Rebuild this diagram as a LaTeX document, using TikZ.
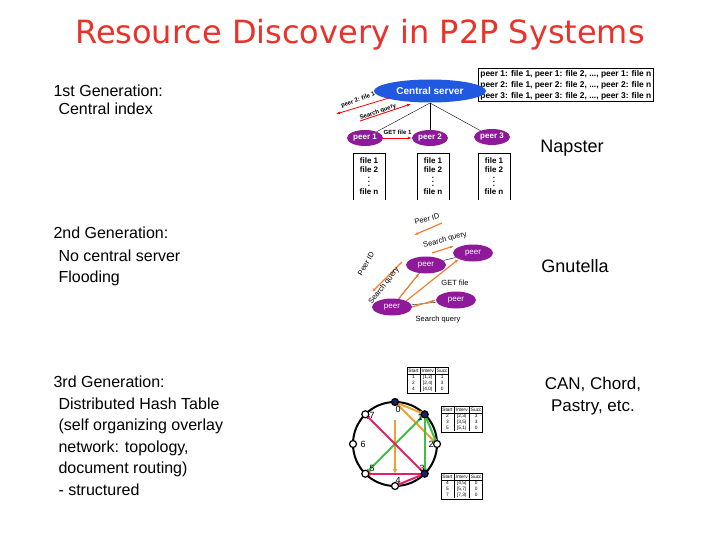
\documentclass[tikz,border=0pt]{standalone}
\usepackage{fontspec}
\setmainfont{Liberation Sans}
\newfontfamily\ttlfont{DejaVu Sans}
\usetikzlibrary{shapes.geometric,arrows.meta}
\definecolor{ttl}{HTML}{E8322A}
\definecolor{srv}{HTML}{2058E0}
\definecolor{pur}{HTML}{8E1A9A}
\definecolor{org}{HTML}{F08030}
\definecolor{ch}{HTML}{F0A030}
\definecolor{gr}{HTML}{40C040}
\definecolor{mg}{HTML}{E0206A}
\definecolor{nv}{HTML}{1A2060}
\setlength\tabcolsep{1.6pt}
\begin{document}
\begin{tikzpicture}[x=1pt,y=-1pt,
  lt/.style={anchor=base west,font=\fontsize{16}{16}\selectfont},
  peer/.style={ellipse,fill=pur,text=white,inner sep=0pt,minimum width=36,minimum height=16,font=\bfseries\fontsize{8}{8}\selectfont},
  gpeer/.style={ellipse,fill=pur,text=white,inner sep=0pt,minimum width=40,minimum height=17,font=\fontsize{8}{8}\selectfont},
  fl/.style={font=\bfseries\fontsize{8}{9}\selectfont,align=center},
  rar/.style={red,thick,-{Latex[length=4pt]}},
  oar/.style={org,line width=1.2pt,-{Latex[length=4pt]}},
  sm/.style={font=\fontsize{7.5}{8}\selectfont},
  cn/.style={circle,draw=black,line width=1.2pt,fill=white,inner sep=0pt,minimum size=7},
  cf/.style={cn,fill=nv},
  cl/.style={font=\fontsize{9}{9}\selectfont},
  tb/.style={draw,fill=white,thick,inner sep=1pt,font=\fontsize{4.8}{5.8}\selectfont},
  car/.style={line width=2pt,-{Latex[length=5pt,width=5pt]}}]
\useasboundingbox (0,0) rectangle (720,540);
\node[text=ttl,font=\ttlfont\fontsize{32}{32}\selectfont] (title) at (360,35) {Resource Discovery in P2P Systems};
% left texts
\node[lt] (g1) at (50,97) {1st Generation:};
\node[lt] (g1a) at (55,115) {Central index};
\node[lt] (g2) at (50,239) {2nd Generation:};
\node[lt,align=left,anchor=north west,font=\fontsize{16}{21}\selectfont] (g2a) at (55,246) {No central server\\Flooding};
\node[lt] (g3) at (50,387) {3rd Generation:};
\node[lt,align=left,anchor=north west,font=\fontsize{16}{21.5}\selectfont] (g3a) at (55,394) {Distributed Hash Table\\(self organizing overlay\\network: topology,\\document routing)\\ - structured};
\node[font=\fontsize{18}{18}\selectfont] (nap) at (572,148) {Napster};
\node[font=\fontsize{18}{18}\selectfont] (gnu) at (575,266) {Gnutella};
\node[font=\fontsize{17}{22}\selectfont,align=center] (can) at (593,396) {CAN, Chord,\\Pastry, etc.};
% Napster
\node[draw,thick,fill=white,inner sep=2pt,anchor=north west,font=\bfseries\fontsize{8.4}{10.8}\selectfont,align=left] (tab) at (478,68) {peer 1: file 1, peer 1: file 2, ..., peer 1: file n\\peer 2: file 1, peer 2: file 2, ..., peer 2: file n\\peer 3: file 1, peer 3: file 2, ..., peer 3: file n};
\node[ellipse,fill=srv,text=white,minimum width=112,minimum height=23,inner sep=0pt,font=\bfseries\fontsize{10}{10}\selectfont] (srv) at (430,91) {Central server};
\node[peer] (p1) at (365,138) {peer 1};
\node[peer] (p2) at (430,138) {peer 2};
\node[peer] (p3) at (492,137) {peer 3};
\coordinate (sc) at (430,103);
\draw (sc) -- (p1);
\draw (sc) -- (p2);
\draw (sc) -- (p3);
\draw[rar] (p1) -- (p2) node[midway,above,font=\bfseries\fontsize{6}{6}\selectfont,black] {GET file 1};
\coordinate (a1s) at (389,98); \coordinate (a1e) at (336,114);
\coordinate (a2s) at (360,121); \coordinate (a2e) at (411,104);
\draw[rar] (a1s) -- (a1e);
\draw[rar] (a2s) -- (a2e);
\node[rotate=20,font=\bfseries\fontsize{6}{6}\selectfont] (t1) at (358,100) {peer 2: file 1};
\node[rotate=20,font=\bfseries\fontsize{6}{6}\selectfont] (t2) at (378,112) {Search query};
\foreach \x/\n in {353/f1,417/f2,478/f3}{
  \draw (\x,200) -- (\x,153) -- (\x+32,153) -- (\x+32,200);
  \node[fl,anchor=north] (\n) at (\x+16,154) {file 1\\file 2\\[-2pt]$\vdots$\\[-1pt]file n};
}
% Gnutella
\node[gpeer] (ga) at (392,307) {peer};
\node[gpeer] (gb) at (426,265) {peer};
\node[gpeer] (gc) at (473,253) {peer};
\node[gpeer] (gd) at (456,300) {peer};
\draw (ga) -- (gb); \draw (gb) -- (gc); \draw (ga) -- (gd);
\draw[oar] (ga) -- (gb);
\draw[oar] (ga.north east) -- (gc.south west);
\draw[oar] (ga.east) -- (gd.west);
\coordinate (q1s) at (442,223); \coordinate (q1e) at (414,235);
\coordinate (q2s) at (432,253); \coordinate (q2e) at (454,246);
\coordinate (q3s) at (402,262); \coordinate (q3e) at (372,292);
\draw[oar] (q1s) -- (q1e);
\draw[oar] (q2s) -- (q2e);
\draw[oar] (q3s) -- (q3e);
\node[sm,rotate=15] (l1) at (427,219) {Peer ID};
\node[sm,rotate=15] (l2) at (445,240) {Search query};
\node[sm,rotate=60] (l3) at (366,264) {Peer ID};
\node[sm,rotate=52] (l4) at (384,286) {Search query};
\node[sm] (l5) at (455,283) {GET file};
\node[sm] (l6) at (438,320) {Search query};
% Chord
\draw[line width=2pt] (395,444) circle (42);
\foreach \i in {0,...,7}{\coordinate (c\i) at ({395+42*sin(45*\i)},{444-42*cos(45*\i)});}
\draw[car,ch] (c0) -- (c1);
\draw[car,ch] (c0) -- (c2);
\draw[car,ch] (395,420) -- (395,474);
\draw[car,gr] (c1) -- (c3);
\draw[car,gr] (c1) -- (c5);
\draw[car,gr] (c1) -- (c2);
\draw[car,mg] (c3) -- (c7);
\draw[car,mg] (c3) -- (c5);
\draw[car,mg] (c3) -- (c4);
\foreach \i in {2,4,5,6,7}{\node[cn] (n\i) at (c\i) {};}
\foreach \i in {0,1,3}{\node[cf] (n\i) at (c\i) {};}
\node[cl] (k0) at (398,409) {0};
\node[cl] (k1) at (420,417) {1};
\node[cl] (k2) at (431,444) {2};
\node[cl] (k3) at (422,468) {3};
\node[cl] (k4) at (398,480) {4};
\node[cl] (k5) at (372,468) {5};
\node[cl] (k6) at (363,444) {6};
\node[cl] (k7) at (372,415) {7};
\node[tb,anchor=north west] (tb1) at (407,367) {\begin{tabular}{@{}c|c|c@{}}Start&Interv&Succ\\\hline 1&[1,2)&1\\2&[2,4)&3\\4&[4,0)&0\end{tabular}};
\node[tb,anchor=north west] (tb2) at (441,406) {\begin{tabular}{@{}c|c|c@{}}Start&Interv&Succ\\\hline 2&[2,3)&3\\3&[3,5)&3\\5&[5,1)&0\end{tabular}};
\node[tb,anchor=north west] (tb3) at (441,473) {\begin{tabular}{@{}c|c|c@{}}Start&Interv&Succ\\\hline 4&[4,5)&0\\5&[5,7)&0\\7&[7,3)&0\end{tabular}};
\end{tikzpicture}
\end{document}
